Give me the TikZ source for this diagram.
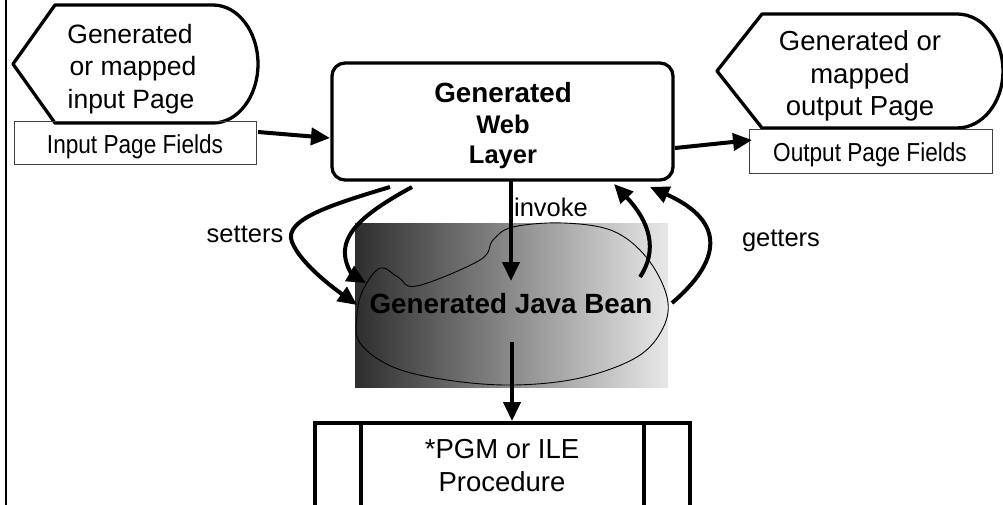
\documentclass[tikz,border=0pt]{standalone}
\usepackage{fontspec}
\setmainfont{Liberation Sans}
\newfontfamily\narrowfont[FakeStretch=0.87]{Liberation Sans}
\usetikzlibrary{arrows.meta}
\tikzset{
  txt/.style={anchor=base, inner sep=0pt, font=\fontsize{26.5}{30}\selectfont},
  otxt/.style={anchor=base, inner sep=0pt, font=\fontsize{27.5}{30}\selectfont},
  ltxt/.style={anchor=base, inner sep=0pt, font=\fontsize{25.5}{30}\selectfont},
  ptxt/.style={anchor=base, inner sep=0pt, font=\fontsize{27.5}{30}\selectfont},
  btxt/.style={anchor=base, inner sep=0pt, font=\fontsize{27.8}{30}\selectfont\bfseries},
  bsmall/.style={anchor=base, inner sep=0pt, font=\fontsize{25.5}{30}\selectfont\bfseries},
  ntxt/.style={anchor=base, inner sep=0pt, font=\fontsize{26}{30}\selectfont\narrowfont},
  pageshape/.style={line width=3.3pt, line join=round},
  fieldbox/.style={draw=black!75, line width=1pt, inner sep=0pt},
  conn/.style={line width=4pt, -{Triangle[length=19pt,width=17pt]}},
}
\begin{document}
\begin{tikzpicture}[x=1pt,y=-1pt]
\useasboundingbox (0,0) rectangle (1003,504);
% frame edge
\draw[line width=2pt] (6,-2) -- (6,506);

% input page shape
\draw[pageshape] (13,64) -- (55,5) -- (213,5) arc[start angle=90,end angle=-90,x radius=45,y radius=-59] -- (55,123) -- cycle;
\node[txt] (in1) at (130,43) {Generated};
\node[txt] (in2) at (133,75.5) {or mapped};
\node[txt] (in3) at (131,108) {input Page};
\node[fieldbox, minimum width=242pt, minimum height=43pt] (infields) at (135,142.5) {};
\node[ntxt] (infieldstxt) at (135,153) {Input Page Fields};

% output page shape
\draw[pageshape] (717,71) -- (762,14) -- (957,14) arc[start angle=90,end angle=-90,x radius=46,y radius=-57] -- (762,128) -- cycle;
\node[otxt] (out1) at (860,50) {Generated or};
\node[otxt] (out2) at (860,83) {mapped};
\node[otxt] (out3) at (860,115.5) {output Page};
\node[fieldbox, minimum width=243pt, minimum height=44pt] (outfields) at (870.5,151) {};
\node[ntxt] (outfieldstxt) at (870,161) {Output Page Fields};

% web layer
\node[draw, line width=3.3pt, rounded corners=13pt, minimum width=341pt, minimum height=117pt, inner sep=0pt] (web) at (502.5,121.5) {};
\node[btxt] (web1) at (503,102) {Generated};
\node[bsmall] (web2) at (503,133) {Web};
\node[bsmall] (web3) at (503,163.5) {Layer};

% bean
\shade[left color=black!82, right color=black!9] (355,223) rectangle (668,387);
\draw[line width=0.9pt] plot[smooth cycle, tension=0.6] coordinates {
 (363,290) (380,268) (398,277) (417,286) (480,260) (493,240) (513,227)
 (563,223) (613,231) (647,258) (667,297) (663,328) (637,357) (580,378)
 (513,385) (447,380) (393,367) (360,343) (357,315)};
\node[btxt] (bean) at (511,313) {Generated Java Bean};

% PGM
\node[draw, line width=3.3pt, minimum width=375pt, minimum height=84pt, inner sep=0pt] (pgm) at (502.5,465) {};
\draw[line width=3.3pt] (361,423) -- (361,507);
\draw[line width=3.3pt] (644,423) -- (644,507);
\node[ptxt] (pgm1) at (502,458) {*PGM or ILE};
\node[ptxt] (pgm2) at (502,491) {Procedure};

% labels
\node[ltxt] (invoke) at (551,216) {invoke};
\node[ltxt] (setters) at (245,242) {setters};
\node[ltxt] (getters) at (781,246.5) {getters};

% coordinates
\coordinate (inA) at (258,132);
\coordinate (inB) at (330,138);
\coordinate (outA) at (675,148);
\coordinate (outB) at (752,140);
\coordinate (invA) at (511,180);
\coordinate (invB) at (511,281);
\coordinate (downA) at (512,342);
\coordinate (downB) at (512,421);
\coordinate (s1a) at (390,187);
\coordinate (s1b) at (357,305);
\coordinate (s2a) at (412,187);
\coordinate (s2b) at (366,283);
\coordinate (g1a) at (640,277);
\coordinate (g1b) at (614,184);
\coordinate (g2a) at (672,303);
\coordinate (g2b) at (650,187);

% connectors
\draw[conn] (inA) -- (inB);
\draw[conn] (outA) -- (outB);
\draw[conn] (invA) -- (invB);
\draw[conn] (downA) -- (downB);
\draw[conn] (s1a) .. controls (330,205) and (283,220) .. (292,242) .. controls (300,262) and (328,284) .. (s1b);
\draw[conn] (s2a) .. controls (370,210) and (343,230) .. (345,255) .. controls (346,268) and (354,276) .. (s2b);
\draw[conn] (g1a) .. controls (658,250) and (650,222) .. (g1b);
\draw[conn] (g2a) .. controls (720,262) and (728,222) .. (g2b);
\end{tikzpicture}
\end{document}
